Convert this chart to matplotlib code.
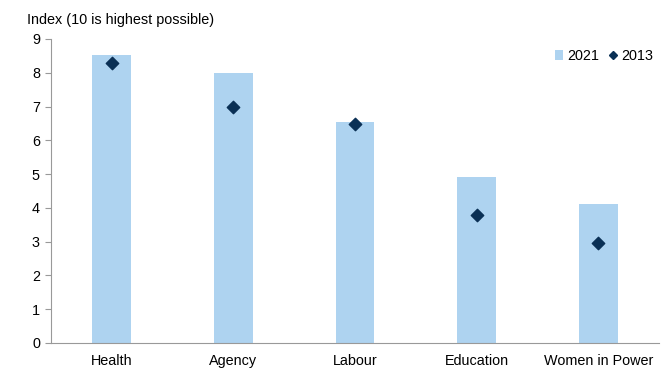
import matplotlib.pyplot as plt
from matplotlib.lines import Line2D
from matplotlib.patches import Patch

plt.rcParams['font.family'] = ['Liberation Sans', 'DejaVu Sans']

categories = ["Health", "Agency", "Labour", "Education", "Women in Power"]
values_2021 = [8.53, 7.99, 6.54, 4.91, 4.11]
values_2013 = [8.30, 7.00, 6.49, 3.79, 2.96]

bar_color = "#aed3f0"
point_color = "#0a3055"
axis_color = "#999999"
fs = 10.4

fig = plt.figure(figsize=(6.66, 3.72), dpi=100)
ax = fig.add_axes([51 / 666, 1 - 343 / 372, 608 / 666, 304 / 372])

x = range(len(categories))
ax.bar(x, values_2021, width=0.32, color=bar_color, zorder=2)
ax.scatter(x, values_2013, marker="D", s=40, color=point_color, zorder=3)

ax.set_xlim(-0.5, len(categories) - 0.5)
ax.set_ylim(0, 9)
ax.set_yticks(range(10))
ax.set_xticks(list(x))
ax.set_xticklabels(categories)
ax.tick_params(axis="x", length=0, pad=8, labelsize=fs)
ax.tick_params(axis="y", length=4, color=axis_color, width=0.8, pad=4, labelsize=fs)

for side in ("top", "right"):
    ax.spines[side].set_visible(False)
for side in ("left", "bottom"):
    ax.spines[side].set_color(axis_color)
    ax.spines[side].set_linewidth(0.8)

fig.text(27 / 666, 1 - 20 / 372, "Index (10 is highest possible)", fontsize=fs,
         va="center", ha="left")

handles = [
    Patch(facecolor=bar_color, label="2021"),
    Line2D([], [], marker="D", linestyle="none", color=point_color,
           markersize=4, label="2013"),
]
ax.legend(handles=handles, loc="upper right", bbox_to_anchor=(1.0, 0.985), ncol=2,
          frameon=False, fontsize=fs, handlelength=0.6, handleheight=0.7,
          handletextpad=0.25, columnspacing=0.7, borderaxespad=0)

fig.savefig("out.png", dpi=100)
